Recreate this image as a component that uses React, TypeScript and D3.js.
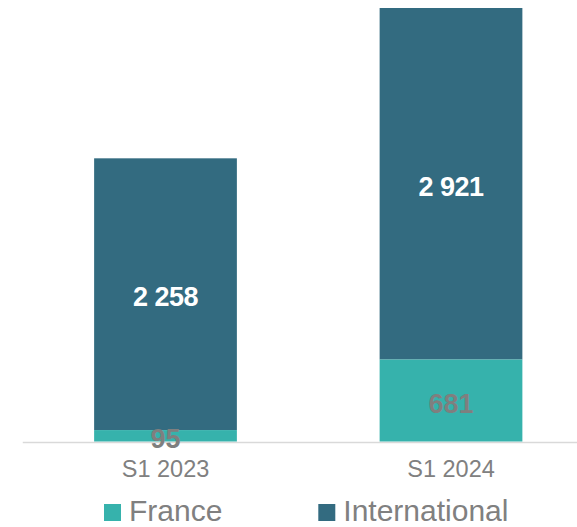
import React from "react";
import * as d3 from "d3";

const categories = ["S1 2023", "S1 2024"];
const france = [95, 681];
const international = [2258, 2921];
const labelsFrance = ["95", "681"];
const labelsInternational = ["2 258", "2 921"];
const seriesNames = ["France", "International"];
const colors = ["#36b2ac", "#336b80"];

export default function App() {
  const W = 577, H = 527;
  const baseline = 441.5;
  const x = d3.scaleBand<string>().domain(categories).range([22.75, 593.75]).paddingInner(0.5).paddingOuter(0.25);
  const y = d3.scaleLinear().domain([0, 3602]).range([baseline, 8]);
  const font = "'Liberation Sans', Arial, sans-serif";
  return (
    <svg width={W} height={H} style={{ position: "absolute", left: 0, top: 0 }} fontFamily={font}>
      <line x1={22.75} x2={593.75} y1={442.5} y2={442.5} stroke="#d9d9d9" strokeWidth={1.5} />
      {categories.map((c, i) => {
        const x0 = x(c)!;
        const bw = x.bandwidth();
        const f = france[i], it = international[i];
        const fTop = y(f), iTop = y(f + it);
        const cx = x0 + bw / 2;
        return (
          <g key={c}>
            <rect x={x0} y={iTop} width={bw} height={fTop - iTop} fill={colors[1]} />
            <rect x={x0} y={fTop} width={bw} height={baseline - fTop} fill={colors[0]} />
            <text x={cx} y={(iTop + fTop) / 2 + 12} textAnchor="middle" fontSize={27} fontWeight="bold" fill="#ffffff" letterSpacing={-0.5}>{labelsInternational[i]}</text>
            <text x={cx} y={(fTop + baseline) / 2 + 12} textAnchor="middle" fontSize={27} fontWeight="bold" fill="#7f7f7f">{labelsFrance[i]}</text>
            <text x={cx} y={476.7} textAnchor="middle" fontSize={23.5} fill="#808080">{c}</text>
          </g>
        );
      })}
      {seriesNames.map((s, i) => {
        const lx = i === 0 ? 104 : 318.3;
        return (
          <g key={s}>
            <rect x={lx} y={504} width={17} height={17} fill={colors[i]} />
            <text x={lx + 25} y={521} fontSize={30} fill="#808080">{s}</text>
          </g>
        );
      })}
    </svg>
  );
}
